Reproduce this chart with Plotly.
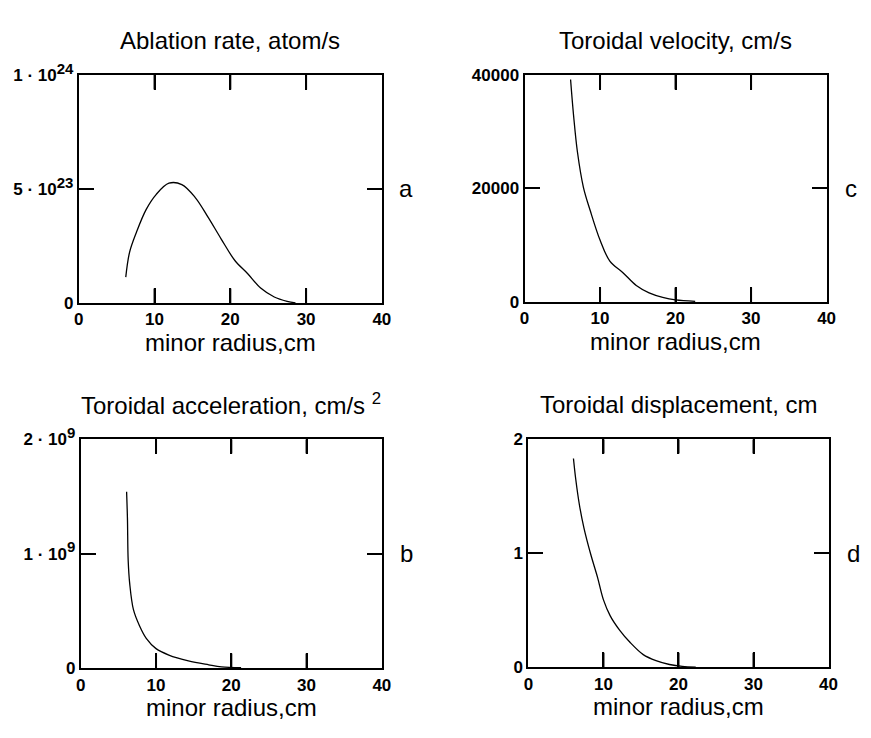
import plotly.graph_objects as go

# ---- data ----
# a: ablation rate, atom/s (units of 1e23)
abl_r = [6.2, 6.7, 7.6, 8.9, 10.2, 11.9, 13.6, 15.4, 17.1, 18.8, 20.6, 22.3, 24.0, 25.8, 27.5, 28.6]
abl_v = [1.13, 2.22, 3.09, 4.10, 4.75, 5.25, 5.19, 4.61, 3.74, 2.80, 1.86, 1.28, 0.65, 0.26, 0.07, 0.0]

# c: toroidal velocity, cm/s
vel_r = [6.1, 6.5, 7.0, 7.8, 8.7, 10.0, 11.3, 13.0, 14.8, 16.5, 18.3, 20.0, 22.6]
vel_v = [39200, 32800, 26500, 20200, 16100, 10900, 7200, 5200, 2900, 1600, 800, 350, 110]

# b: toroidal acceleration, cm/s^2 (units of 1e9)
acc_r = [6.09, 6.2, 6.3, 6.5, 7.0, 7.8, 8.7, 10.0, 11.7, 14.3, 17.0, 18.7, 21.3]
acc_v = [1.54, 1.31, 0.94, 0.74, 0.51, 0.37, 0.26, 0.17, 0.114, 0.063, 0.029, 0.011, 0.003]

# d: toroidal displacement, cm
dis_r = [6.0, 6.3, 6.8, 7.4, 8.3, 9.2, 10.0, 10.9, 12.2, 13.5, 15.3, 17.0, 18.8, 20.5, 22.3]
dis_v = [1.83, 1.65, 1.42, 1.22, 0.99, 0.79, 0.59, 0.45, 0.32, 0.22, 0.11, 0.057, 0.023, 0.006, 0.0]

x_ticks = [0, 10, 20, 30, 40]
x_title = "minor radius,cm"

SUP = "<sup><span style='font-size:15px'>{}</span></sup>"
panels = [
    dict(name="a", title="Ablation rate, atom/s", x=abl_r, y=[v * 1e23 for v in abl_v],
         yticks=[0, 5e23, 1e24], ytext=["0", "5 · 10" + SUP.format(23), "1 · 10" + SUP.format(24)],
         xd=[75, 383], yd=[62, 298]),
    dict(name="c", title="Toroidal velocity, cm/s", x=vel_r, y=vel_v,
         yticks=[0, 20000, 40000], ytext=["0", "20000", "40000"],
         xd=[528, 835], yd=[62, 297]),
    dict(name="b", title="Toroidal acceleration, cm/s <sup>2</sup>", x=acc_r, y=[v * 1e9 for v in acc_v],
         yticks=[0, 1e9, 2e9], ytext=["0", "1 · 10" + SUP.format(9), "2 · 10" + SUP.format(9)],
         xd=[77, 383], yd=[439, 676]),
    dict(name="d", title="Toroidal displacement, cm", x=dis_r, y=dis_v,
         yticks=[0, 1, 2], ytext=["0", "1", "2"],
         xd=[532, 837], yd=[439, 675]),
]

W, H = 871, 738
FONT = "Liberation Sans, Arial, sans-serif"
TICK_LEN = 15


def fx(px):
    return px / W


def fy(py):
    return 1 - py / H


fig = go.Figure()
layout = dict(width=W, height=H, margin=dict(l=0, r=0, t=0, b=0, pad=0),
              paper_bgcolor="white", plot_bgcolor="white", showlegend=False,
              font=dict(family=FONT, color="black"))
annotations = []

for i, p in enumerate(panels):
    k = "" if i == 0 else str(i + 1)
    xa, ya = "x" + k, "y" + k
    ymax = p["yticks"][-1]
    hpx = p["yd"][1] - p["yd"][0]
    # inward x tick marks (bottom and top), built from the tick list
    frac = TICK_LEN / hpx
    tx, ty = [], []
    for t in x_ticks[1:-1]:
        tx += [t, t, None, t, t, None]
        ty += [0, ymax * frac, None, ymax * (1 - frac), ymax, None]
    fig.add_trace(go.Scatter(x=tx, y=ty, mode="lines", xaxis=xa, yaxis=ya, hoverinfo="skip",
                             line=dict(color="black", width=2), cliponaxis=False))
    # data curve
    fig.add_trace(go.Scatter(x=p["x"], y=p["y"], mode="lines", xaxis=xa, yaxis=ya,
                             line=dict(color="black", width=1.3), line_shape="spline"))
    common = dict(showline=True, linecolor="black", linewidth=2, mirror="ticks",
                  ticks="inside", ticklen=TICK_LEN, tickwidth=2, tickcolor="black",
                  showgrid=False, zeroline=False, fixedrange=True,
                  tickfont=dict(family=FONT, size=17, color="black", weight="bold"))
    layout["xaxis" + k] = dict(domain=[fx(p["xd"][0]), fx(p["xd"][1])],
                               range=[x_ticks[0], x_ticks[-1]], tickmode="array",
                               tickvals=x_ticks, ticktext=[str(t) for t in x_ticks],
                               anchor=ya, **common)
    layout["yaxis" + k] = dict(domain=[fy(p["yd"][1]), fy(p["yd"][0])], range=[0, ymax],
                               tickmode="array", tickvals=p["yticks"], ticktext=p["ytext"],
                               anchor=xa, **common)
    cx = (p["xd"][0] + p["xd"][1]) / 2
    # panel title
    annotations.append(dict(text=p["title"], xref="paper", yref="paper",
                            x=fx(cx), y=fy(p["yd"][0] - 36), showarrow=False,
                            font=dict(size=24), xanchor="center", yanchor="middle"))
    # x-axis title
    annotations.append(dict(text=x_title, xref="paper", yref="paper",
                            x=fx(cx), y=fy(p["yd"][1] + 41), showarrow=False,
                            font=dict(size=24), xanchor="center", yanchor="middle"))
    # side letter
    annotations.append(dict(text=p["name"], xref="paper", yref="paper",
                            x=fx(p["xd"][1] + 25), y=fy((p["yd"][0] + p["yd"][1]) / 2),
                            showarrow=False, font=dict(size=24), xanchor="center", yanchor="middle"))

layout["annotations"] = annotations
fig.update_layout(**layout)
fig.write_html("out.html")
